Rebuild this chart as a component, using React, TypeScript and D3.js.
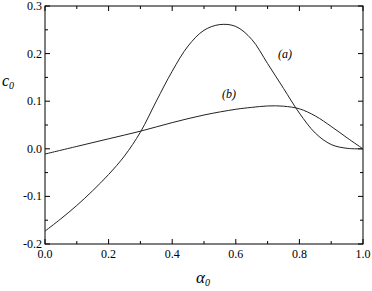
import React from 'react';
import * as d3 from 'd3';

// alpha_0 values sampled along both curves
const alphaA = [0, 0.05, 0.1, 0.15, 0.2, 0.25, 0.3, 0.35, 0.4, 0.45, 0.5, 0.55, 0.6, 0.65, 0.7, 0.75, 0.8, 0.85, 0.9, 0.95, 1.0];
const curveA = [-0.173, -0.147, -0.119, -0.088, -0.054, -0.015, 0.035, 0.100, 0.163, 0.216, 0.249, 0.261, 0.257, 0.230, 0.179, 0.127, 0.075, 0.033, 0.009, 0.001, 0.0];
const alphaB = [0, 0.1, 0.2, 0.3, 0.4, 0.5, 0.6, 0.65, 0.7, 0.75, 0.8, 0.85, 0.9, 0.95, 1.0];
const curveB = [-0.011, 0.005, 0.021, 0.037, 0.055, 0.071, 0.083, 0.087, 0.090, 0.0895, 0.084, 0.069, 0.047, 0.023, 0.0];

const xMajor = [0, 0.2, 0.4, 0.6, 0.8, 1.0];
const xMinor = [0.1, 0.3, 0.5, 0.7, 0.9];
const yMajor = [-0.2, -0.1, 0.0, 0.1, 0.2, 0.3];
const yMinor = [-0.15, -0.05, 0.05, 0.15, 0.25];

const W = 372;
const H = 291;
const margin = { left: 45, right: 9, top: 6, bottom: 47 };
const font = "'Liberation Serif', 'DejaVu Serif', 'Times New Roman', Times, serif";

const App: React.FC = () => {
  const x = d3.scaleLinear().domain([0, 1]).range([margin.left, W - margin.right]);
  const y = d3.scaleLinear().domain([-0.2, 0.3]).range([H - margin.bottom, margin.top]);
  const line = d3.line<[number, number]>().x(d => x(d[0])).y(d => y(d[1])).curve(d3.curveCatmullRom.alpha(0.5));
  const dataA = alphaA.map((a, i) => [a, curveA[i]] as [number, number]);
  const dataB = alphaB.map((a, i) => [a, curveB[i]] as [number, number]);
  const x0 = x(0), x1 = x(1), y0 = y(-0.2), y1 = y(0.3);

  return <svg width={W} height={H} style={{ position: 'absolute', left: 0, top: 0, background: '#fff', fontFamily: font }}>
      <rect x={x0} y={y1} width={x1 - x0} height={y0 - y1} fill="none" stroke="#000" strokeWidth={1} />
      {xMajor.map(t => <g key={'xM' + t}>
          <line x1={x(t)} x2={x(t)} y1={y0} y2={y0 - 5} stroke="#000" />
          <line x1={x(t)} x2={x(t)} y1={y1} y2={y1 + 5} stroke="#000" />
          <text x={x(t)} y={258} textAnchor="middle" fontSize={12} style={{ fontFamily: font }}>{t.toFixed(1)}</text>
        </g>)}
      {xMinor.map(t => <g key={'xm' + t}>
          <line x1={x(t)} x2={x(t)} y1={y0} y2={y0 - 3} stroke="#000" />
          <line x1={x(t)} x2={x(t)} y1={y1} y2={y1 + 3} stroke="#000" />
        </g>)}
      {yMajor.map(t => <g key={'yM' + t}>
          <line x1={x0} x2={x0 + 5} y1={y(t)} y2={y(t)} stroke="#000" />
          <line x1={x1} x2={x1 - 5} y1={y(t)} y2={y(t)} stroke="#000" />
          <text x={42} y={y(t) + 4} textAnchor="end" fontSize={12} style={{ fontFamily: font }}>{t.toFixed(1)}</text>
        </g>)}
      {yMinor.map(t => <g key={'ym' + t}>
          <line x1={x0} x2={x0 + 3} y1={y(t)} y2={y(t)} stroke="#000" />
          <line x1={x1} x2={x1 - 3} y1={y(t)} y2={y(t)} stroke="#000" />
        </g>)}
      <path d={line(dataA) || ''} fill="none" stroke="#222" strokeWidth={1} />
      <path d={line(dataB) || ''} fill="none" stroke="#222" strokeWidth={1} />
      <text x={278} y={58} fontStyle="italic" fontSize={12} style={{ fontFamily: font }}>(a)</text>
      <text x={222} y={98} fontStyle="italic" fontSize={12} style={{ fontFamily: font }}>(b)</text>
      <text x={2} y={86} fontStyle="italic" fontSize={16} style={{ fontFamily: font }}>c<tspan fontSize={10} dy={3}>0</tspan></text>
      <text x={196} y={283} fontStyle="italic" fontSize={17} style={{ fontFamily: font }}>α<tspan fontSize={10} dy={3}>0</tspan></text>
    </svg>;
};

export default App;
